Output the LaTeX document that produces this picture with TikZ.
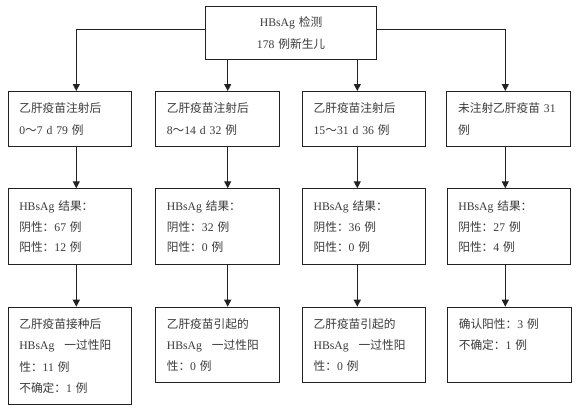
\documentclass[tikz,border=0pt]{standalone}
\usepackage{fontspec}
\setmainfont{Liberation Serif}
\newfontfamily\cjk{Noto Sans CJK SC}
\usetikzlibrary{arrows.meta}
\newcommand\zh[1]{{\cjk #1}}
\definecolor{ink}{HTML}{222222}
\definecolor{txtc}{HTML}{3A3A3A}
\tikzset{
  box/.style={draw=ink, line width=1.1pt, rectangle, anchor=north west,
    minimum width=123.5pt, text width=101pt, inner xsep=11pt, inner ysep=0pt,
    align=left, text=txtc},
  arr/.style={draw=ink, line width=1.1pt, -{Triangle[width=7pt,length=7pt]}},
  fA/.style={font=\fontsize{11.7}{22.6}\selectfont},
  fB/.style={font=\fontsize{11.7}{21.7}\selectfont},
  fC/.style={font=\fontsize{11.7}{20.3}\selectfont},
  fD/.style={font=\fontsize{11.7}{21.3}\selectfont},
}
\begin{document}
\begin{tikzpicture}[x=1pt,y=-1pt]
\fill[white] (0,0) rectangle (580,416);
\useasboundingbox (0,0) rectangle (580,416);
\coordinate (k1) at (76.3,0);
\coordinate (k2) at (227.7,0);
\coordinate (k3) at (357.3,0);
\coordinate (k4) at (505.3,0);

\node[box, fA, minimum width=171pt, text width=149pt, minimum height=53.3pt, align=center] (top) at (205,6)
  {HBsAg \zh{检测}\\178 \zh{例新生儿}};

\node[box, fB, minimum height=55pt] (r2a) at (7.5,91) {\zh{乙肝疫苗注射后}\\0\zh{～}7 d 79 \zh{例}};
\node[box, fB, minimum height=55pt] (r2b) at (155,91) {\zh{乙肝疫苗注射后}\\8\zh{～}14 d 32 \zh{例}};
\node[box, fB, minimum height=55pt] (r2c) at (301.8,91) {\zh{乙肝疫苗注射后}\\15\zh{～}31 d 36 \zh{例}};
\node[box, fB, minimum height=55pt] (r2d) at (446.3,91) {\zh{未注射乙肝疫苗} 31\\\zh{例}};

\node[box, fC, minimum height=75.7pt] (r3a) at (7.5,188.3) {HBsAg \zh{结果：}\\\zh{阴性：}67 \zh{例}\\\zh{阳性：}12 \zh{例}};
\node[box, fC, minimum height=75.7pt] (r3b) at (155,188.3) {HBsAg \zh{结果：}\\\zh{阴性：}32 \zh{例}\\\zh{阳性：}0 \zh{例}};
\node[box, fC, minimum height=75.7pt] (r3c) at (301.8,188.3) {HBsAg \zh{结果：}\\\zh{阴性：}36 \zh{例}\\\zh{阳性：}0 \zh{例}};
\node[box, fC, minimum height=75.7pt] (r3d) at (446.5,188.3) {HBsAg \zh{结果：}\\\zh{阴性：}27 \zh{例}\\\zh{阳性：}4 \zh{例}};

\node[box, fD, minimum height=97.6pt] (r4a) at (7.5,306.7) {\zh{乙肝疫苗接种后}\\HBsAg\hspace{10pt}\zh{一过性阳}\\\zh{性：}11 \zh{例}\\\zh{不确定：}1 \zh{例}};
\node[box, fD, minimum height=75.6pt] (r4b) at (155,306.7) {\zh{乙肝疫苗引起的}\\HBsAg\hspace{10pt}\zh{一过性阳}\\\zh{性：}0 \zh{例}};
\node[box, fD, minimum height=75.6pt] (r4c) at (301.8,306.7) {\zh{乙肝疫苗引起的}\\HBsAg\hspace{10pt}\zh{一过性阳}\\\zh{性：}0 \zh{例}};
\node[box, fD, minimum height=75.6pt] (r4d) at (447,306.7) {\zh{确认阳性：}3 \zh{例}\\\zh{不确定：}1 \zh{例}\\\mbox{}};

\draw[arr] ([yshift=3.35pt]top.west) -| (k1 |- r2a.north);
\draw[arr] ([yshift=3.35pt]top.east) -| (k4 |- r2d.north);
\draw[arr] (top.south -| k2) -- (k2 |- r2b.north);
\draw[arr] (top.south -| k3) -- (k3 |- r2c.north);

\draw[arr] (r2a.south -| k1) -- (k1 |- r3a.north);
\draw[arr] (r2b.south -| k2) -- (k2 |- r3b.north);
\draw[arr] (r2c.south -| k3) -- (k3 |- r3c.north);
\draw[arr] (r2d.south -| k4) -- (k4 |- r3d.north);

\draw[arr] (r3a.south -| k1) -- (k1 |- r4a.north);
\draw[arr] (r3b.south -| k2) -- (k2 |- r4b.north);
\draw[arr] (r3c.south -| k3) -- (k3 |- r4c.north);
\draw[arr] (r3d.south -| k4) -- (k4 |- r4d.north);
\end{tikzpicture}
\end{document}
